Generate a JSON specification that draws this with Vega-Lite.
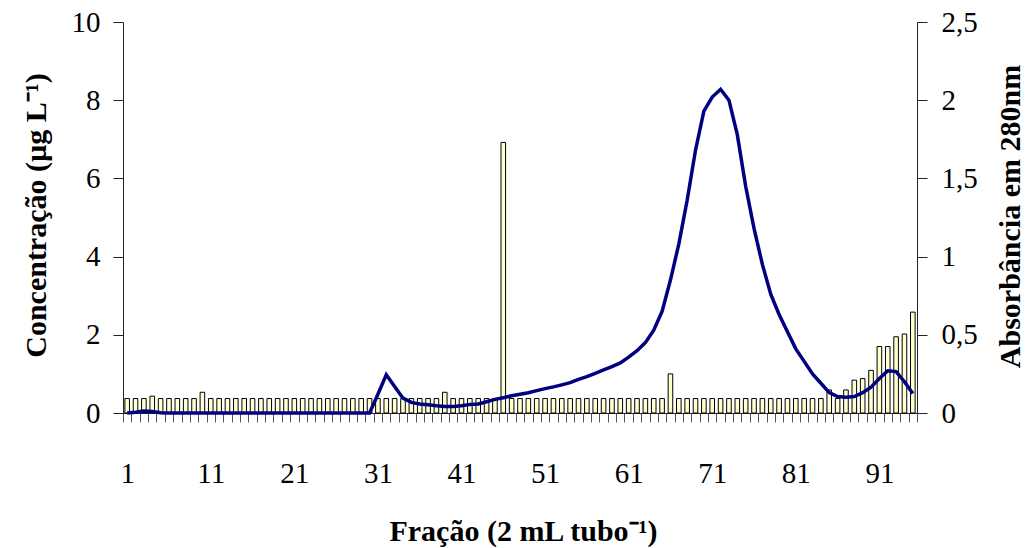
{
  "$schema": "https://vega.github.io/schema/vega-lite/v6.json",
  "width": 794,
  "height": 391,
  "autosize": {"type": "none"},
  "padding": {"left": 123, "top": 22, "right": 110, "bottom": 135},
  "background": "white",
  "config": {
    "view": {"stroke": null},
    "font": "Liberation Serif",
    "axis": {
      "labelFont": "Liberation Serif",
      "titleFont": "Liberation Serif",
      "labelColor": "black",
      "titleColor": "black",
      "labelFontSize": 29,
      "titleFontSize": 30,
      "titleFontWeight": "bold",
      "grid": false,
      "domainColor": "#222",
      "tickColor": "#222",
      "domainWidth": 1,
      "tickWidth": 1
    }
  },
  "data": {
    "values": [
      {"fracao": 1, "conc": 0.37, "abs": 0},
      {"fracao": 2, "conc": 0.37, "abs": 0.005},
      {"fracao": 3, "conc": 0.37, "abs": 0.012},
      {"fracao": 4, "conc": 0.43, "abs": 0.01},
      {"fracao": 5, "conc": 0.37, "abs": 0.002},
      {"fracao": 6, "conc": 0.37, "abs": 0},
      {"fracao": 7, "conc": 0.37, "abs": 0},
      {"fracao": 8, "conc": 0.37, "abs": 0},
      {"fracao": 9, "conc": 0.37, "abs": 0},
      {"fracao": 10, "conc": 0.53, "abs": 0},
      {"fracao": 11, "conc": 0.37, "abs": 0},
      {"fracao": 12, "conc": 0.37, "abs": 0},
      {"fracao": 13, "conc": 0.37, "abs": 0},
      {"fracao": 14, "conc": 0.37, "abs": 0},
      {"fracao": 15, "conc": 0.37, "abs": 0},
      {"fracao": 16, "conc": 0.37, "abs": 0},
      {"fracao": 17, "conc": 0.37, "abs": 0},
      {"fracao": 18, "conc": 0.37, "abs": 0},
      {"fracao": 19, "conc": 0.37, "abs": 0},
      {"fracao": 20, "conc": 0.37, "abs": 0},
      {"fracao": 21, "conc": 0.37, "abs": 0},
      {"fracao": 22, "conc": 0.37, "abs": 0},
      {"fracao": 23, "conc": 0.37, "abs": 0},
      {"fracao": 24, "conc": 0.37, "abs": 0},
      {"fracao": 25, "conc": 0.37, "abs": 0},
      {"fracao": 26, "conc": 0.37, "abs": 0},
      {"fracao": 27, "conc": 0.37, "abs": 0},
      {"fracao": 28, "conc": 0.37, "abs": 0},
      {"fracao": 29, "conc": 0.37, "abs": 0},
      {"fracao": 30, "conc": 0.37, "abs": 0},
      {"fracao": 31, "conc": 0.37, "abs": 0.12},
      {"fracao": 32, "conc": 0.37, "abs": 0.245},
      {"fracao": 33, "conc": 0.37, "abs": 0.17},
      {"fracao": 34, "conc": 0.37, "abs": 0.095},
      {"fracao": 35, "conc": 0.37, "abs": 0.068},
      {"fracao": 36, "conc": 0.37, "abs": 0.058},
      {"fracao": 37, "conc": 0.37, "abs": 0.053},
      {"fracao": 38, "conc": 0.37, "abs": 0.046},
      {"fracao": 39, "conc": 0.53, "abs": 0.042},
      {"fracao": 40, "conc": 0.37, "abs": 0.042},
      {"fracao": 41, "conc": 0.37, "abs": 0.046},
      {"fracao": 42, "conc": 0.37, "abs": 0.055},
      {"fracao": 43, "conc": 0.37, "abs": 0.058},
      {"fracao": 44, "conc": 0.37, "abs": 0.072},
      {"fracao": 45, "conc": 0.37, "abs": 0.087},
      {"fracao": 46, "conc": 6.92, "abs": 0.098},
      {"fracao": 47, "conc": 0.37, "abs": 0.11},
      {"fracao": 48, "conc": 0.37, "abs": 0.12},
      {"fracao": 49, "conc": 0.37, "abs": 0.13},
      {"fracao": 50, "conc": 0.37, "abs": 0.143},
      {"fracao": 51, "conc": 0.37, "abs": 0.156},
      {"fracao": 52, "conc": 0.37, "abs": 0.167},
      {"fracao": 53, "conc": 0.37, "abs": 0.18},
      {"fracao": 54, "conc": 0.37, "abs": 0.194},
      {"fracao": 55, "conc": 0.37, "abs": 0.215},
      {"fracao": 56, "conc": 0.37, "abs": 0.232},
      {"fracao": 57, "conc": 0.37, "abs": 0.254},
      {"fracao": 58, "conc": 0.37, "abs": 0.275},
      {"fracao": 59, "conc": 0.37, "abs": 0.297},
      {"fracao": 60, "conc": 0.37, "abs": 0.32},
      {"fracao": 61, "conc": 0.37, "abs": 0.357},
      {"fracao": 62, "conc": 0.37, "abs": 0.398},
      {"fracao": 63, "conc": 0.37, "abs": 0.45},
      {"fracao": 64, "conc": 0.37, "abs": 0.53},
      {"fracao": 65, "conc": 0.37, "abs": 0.65},
      {"fracao": 66, "conc": 1.0, "abs": 0.85},
      {"fracao": 67, "conc": 0.37, "abs": 1.08},
      {"fracao": 68, "conc": 0.37, "abs": 1.36},
      {"fracao": 69, "conc": 0.37, "abs": 1.68},
      {"fracao": 70, "conc": 0.37, "abs": 1.93},
      {"fracao": 71, "conc": 0.37, "abs": 2.02},
      {"fracao": 72, "conc": 0.37, "abs": 2.07},
      {"fracao": 73, "conc": 0.37, "abs": 2.0},
      {"fracao": 74, "conc": 0.37, "abs": 1.78},
      {"fracao": 75, "conc": 0.37, "abs": 1.45},
      {"fracao": 76, "conc": 0.37, "abs": 1.18},
      {"fracao": 77, "conc": 0.37, "abs": 0.95},
      {"fracao": 78, "conc": 0.37, "abs": 0.76},
      {"fracao": 79, "conc": 0.37, "abs": 0.63},
      {"fracao": 80, "conc": 0.37, "abs": 0.52},
      {"fracao": 81, "conc": 0.37, "abs": 0.41},
      {"fracao": 82, "conc": 0.37, "abs": 0.33},
      {"fracao": 83, "conc": 0.37, "abs": 0.25},
      {"fracao": 84, "conc": 0.37, "abs": 0.19},
      {"fracao": 85, "conc": 0.59, "abs": 0.13},
      {"fracao": 86, "conc": 0.37, "abs": 0.105},
      {"fracao": 87, "conc": 0.59, "abs": 0.1},
      {"fracao": 88, "conc": 0.84, "abs": 0.105},
      {"fracao": 89, "conc": 0.88, "abs": 0.13},
      {"fracao": 90, "conc": 1.09, "abs": 0.165},
      {"fracao": 91, "conc": 1.7, "abs": 0.22},
      {"fracao": 92, "conc": 1.7, "abs": 0.27},
      {"fracao": 93, "conc": 1.95, "abs": 0.265},
      {"fracao": 94, "conc": 2.02, "abs": 0.2},
      {"fracao": 95, "conc": 2.58, "abs": 0.125}
    ]
  },
  "encoding": {
    "x": {
      "field": "fracao",
      "type": "ordinal",
      "scale": {"paddingInner": 0, "paddingOuter": 0},
      "axis": {
        "title": "Fração (2 mL tubo⁻¹)",
        "labelAngle": 0,
        "labelExpr": "(datum.value - 1) % 10 == 0 ? datum.label : ''",
        "labelOverlap": false,
        "labelBound": false,
        "tickBand": "extent",
        "tickSize": 9,
        "tickColor": "#555",
        "labelPadding": 37,
        "titleBaseline": "alphabetic",
        "titleY": 127,
        "titleX": 400,
        "titleAlign": "center"
      }
    }
  },
  "layer": [
    {
      "mark": {"type": "bar", "fill": "#FFFFCC", "stroke": "black", "strokeWidth": 1, "width": {"band": 0.55}},
      "encoding": {
        "y": {
          "field": "conc",
          "type": "quantitative",
          "scale": {"domain": [0, 10]},
          "axis": {
            "orient": "left",
            "title": "Concentração (µg L⁻¹)",
            "values": [0, 2, 4, 6, 8, 10],
            "tickSize": 10,
            "labelPadding": 13,
            "titleAngle": -90,
            "titleAlign": "center",
            "titleBaseline": "alphabetic",
            "titleX": -78,
            "titleY": 193,
            "encode": {"ticks": {"update": {"x": {"value": 9}, "x2": {"value": -10}}}}
          }
        }
      }
    },
    {
      "mark": {"type": "line", "color": "#000080", "strokeWidth": 3.5},
      "encoding": {
        "y": {
          "field": "abs",
          "type": "quantitative",
          "scale": {"domain": [0, 2.5]},
          "axis": {
            "orient": "right",
            "title": "Absorbância em 280nm",
            "values": [0, 0.5, 1, 1.5, 2, 2.5],
            "labelExpr": "replace(format(datum.value, '~g'), '.', ',')",
            "tickSize": 10,
            "labelPadding": 14,
            "titleAngle": -90,
            "titleAlign": "center",
            "titleBaseline": "alphabetic",
            "titleX": 102,
            "titleY": 194,
            "encode": {"ticks": {"update": {"x": {"value": -10}, "x2": {"value": 10}}}}
          }
        }
      }
    }
  ],
  "resolve": {"scale": {"y": "independent"}}
}
